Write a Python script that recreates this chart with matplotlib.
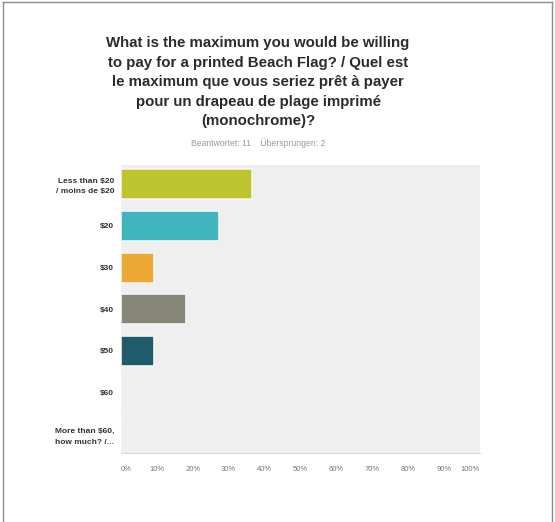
import matplotlib.pyplot as plt
from matplotlib.lines import Line2D

categories = ['Less than $20\n/ moins de $20', '$20', '$30', '$40', '$50', '$60',
              'More than $60,\nhow much? /...']
percents = [36.36, 27.27, 9.09, 18.18, 9.09, 0, 0]
colors = ['#bcc42e', '#3fb5c0', '#eda733', '#878778', '#1f5b6b', '#cccccc', '#cccccc']
xticks = [0, 10, 20, 30, 40, 50, 60, 70, 80, 90, 100]

title = ("What is the maximum you would be willing\n"
         "to pay for a printed Beach Flag? / Quel est\n"
         "le maximum que vous seriez prêt à payer\n"
         "pour un drapeau de plage imprimé\n"
         "(monochrome)?")
subtitle = "Beantwortet: 11    Übersprungen: 2"

plt.rcParams['font.family'] = ['Liberation Sans', 'DejaVu Sans']

fig = plt.figure(figsize=(5.55, 5.22), dpi=100)
fig.patch.set_facecolor('white')

# outer frame
for xs, ys in [([0.006, 0.006], [0.0, 0.996]), ([0.006, 0.995], [0.996, 0.996]),
               ([0.995, 0.995], [0.0, 0.996])]:
    fig.add_artist(Line2D(xs, ys, transform=fig.transFigure, color='#8c8c8c', lw=1))

ax = fig.add_axes([0.218, 0.132, 0.647, 0.552])
ax.set_facecolor('#efefef')

y = list(range(len(categories)))
ax.barh(y, percents, height=0.72, color=colors, edgecolor='#f4f4f4', linewidth=1.2)

ax.set_xlim(0, 100)
ax.set_ylim(6.45, -0.46)
ax.set_yticks(y)
ax.set_yticklabels(categories, fontsize=6, color='#333333', fontweight='bold',
                   linespacing=1.65)
ax.set_xticks(xticks)
ax.set_xticklabels([f'{t}%' for t in xticks], fontsize=5.5, color='#777777')
labels = ax.get_xticklabels()
labels[0].set_ha('left')
labels[-1].set_ha('right')
ax.tick_params(axis='both', length=0)
ax.tick_params(axis='x', pad=9)
ax.tick_params(axis='y', pad=5)
for s in ['top', 'right', 'left']:
    ax.spines[s].set_visible(False)
ax.spines['bottom'].set_color('#d8d8d8')

fig.text(0.465, 0.931, title, ha='center', va='top', fontsize=10.8, fontweight='bold',
         color='#2b2b2b', linespacing=1.5)
fig.text(0.465, 0.726, subtitle, ha='center', va='center', fontsize=6.2, color='#999999')

fig.savefig('out.png', dpi=100)
